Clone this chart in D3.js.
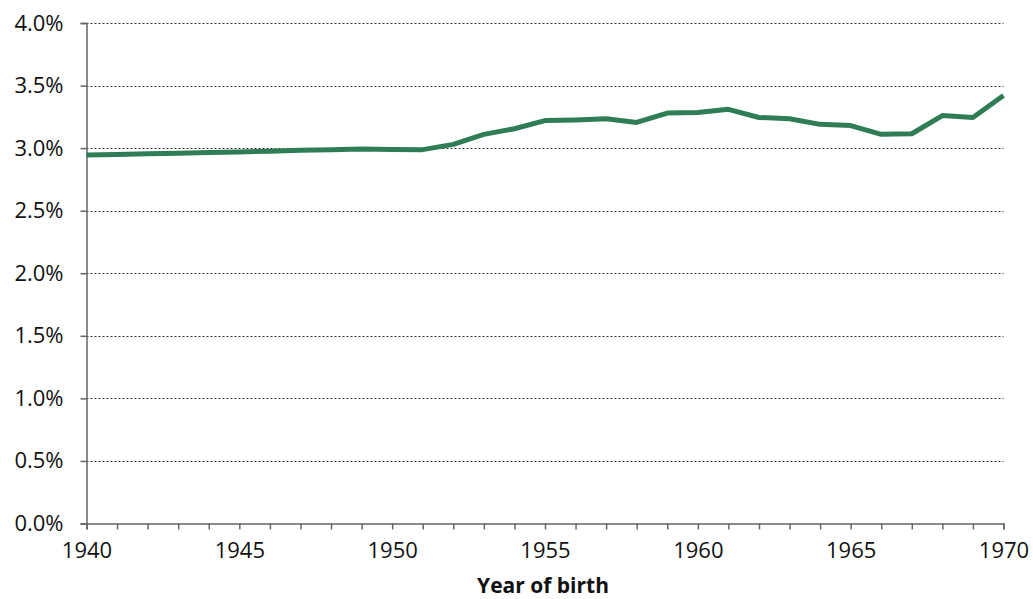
<!DOCTYPE html>
<html>
<head>
<meta charset="utf-8">
<script src="https://cdn.jsdelivr.net/npm/d3@7"></script>
<style>
  body { margin: 0; background: #fff; }
  svg { display: block; font-family: "Open Sans", "Noto Sans", sans-serif; }
</style>
</head>
<body>
<svg id="chart" width="1033" height="599"></svg>
<script>
// Share by year of birth
const years = d3.range(1940, 1971);
const shares = [
  2.945, 2.950, 2.955, 2.960, 2.965, 2.970, 2.975, 2.983, 2.988, 2.993,
  2.990, 2.988, 3.030, 3.110, 3.155, 3.220, 3.225, 3.235, 3.205, 3.280,
  3.285, 3.310, 3.245, 3.235, 3.190, 3.180, 3.110, 3.115, 3.260, 3.245,
  3.420
];
const yTicks = [0, 0.5, 1.0, 1.5, 2.0, 2.5, 3.0, 3.5, 4.0];
const xLabelYears = [1940, 1945, 1950, 1955, 1960, 1965, 1970];
const xTitle = "Year of birth";

const svg = d3.select("#chart");
const plotLeft = 86.5, plotRight = 1003.5, plotTop = 23, plotBottom = 523.5;

const x = d3.scaleLinear().domain([1940, 1970]).range([plotLeft, plotRight]);
const y = d3.scaleLinear().domain([0, 4]).range([plotBottom, plotTop]);

// dotted gridlines
svg.append("g")
  .selectAll("line")
  .data(yTicks.filter(d => d > 0))
  .join("line")
  .attr("x1", plotLeft).attr("x2", plotRight)
  .attr("y1", d => Math.round(y(d)) + 0.5).attr("y2", d => Math.round(y(d)) + 0.5)
  .attr("stroke", "#333").attr("stroke-width", 1)
  .attr("stroke-dasharray", "2,2");

// y axis
const yAxis = svg.append("g")
  .attr("transform", `translate(${plotLeft},0)`)
  .call(d3.axisLeft(y).tickValues(yTicks).tickSize(6).tickPadding(17)
    .tickFormat(d => d.toFixed(1) + "%"));
yAxis.select(".domain").attr("stroke", "#666").attr("stroke-width", 1.5);
yAxis.selectAll(".tick line").attr("stroke", "#666").attr("stroke-width", 1.5);
yAxis.selectAll(".tick text").attr("font-size", 22).attr("fill", "#111")
  .attr("font-family", "'Open Sans', sans-serif");

// x axis: minor ticks every year, labels every five
const xAxis = svg.append("g")
  .attr("transform", `translate(0,${plotBottom})`)
  .call(d3.axisBottom(x).tickValues(years).tickSize(6).tickPadding(13)
    .tickFormat(d => xLabelYears.includes(d) ? String(d) : ""));
xAxis.select(".domain").attr("stroke", "#666").attr("stroke-width", 1.5);
xAxis.selectAll(".tick line").attr("stroke", "#666").attr("stroke-width", 1.5);
xAxis.selectAll(".tick text").attr("font-size", 22).attr("fill", "#111")
  .attr("font-family", "'Open Sans', sans-serif");

svg.append("text")
  .attr("x", (plotLeft + plotRight) / 2 - 2).attr("y", 593)
  .attr("text-anchor", "middle")
  .attr("font-size", 21).attr("font-weight", "bold").attr("fill", "#111")
  .text(xTitle);

// series line
const line = d3.line().x((d, i) => x(years[i])).y(d => y(d));
svg.append("path")
  .datum(shares)
  .attr("d", line)
  .attr("fill", "none")
  .attr("stroke", "#2f7d55")
  .attr("stroke-width", 5)
  .attr("stroke-linejoin", "round")
  .attr("stroke-linecap", "butt");
</script>
</body>
</html>
